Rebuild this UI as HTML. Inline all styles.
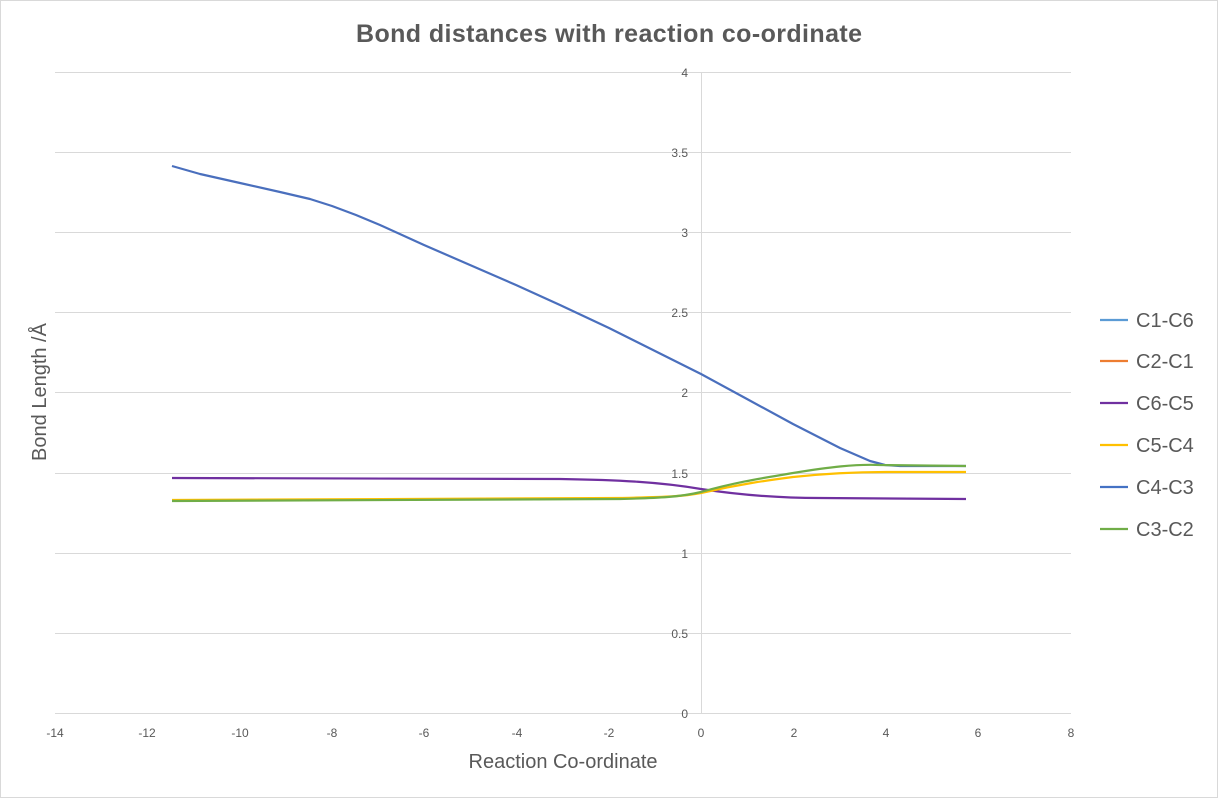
<!DOCTYPE html>
<html><head><meta charset="utf-8"><style>
body{margin:0;background:#fff}
svg{display:block;font-family:"Liberation Sans",sans-serif}
</style></head><body>
<svg width="1218" height="798" viewBox="0 0 1218 798">
<rect x="0.5" y="0.5" width="1217" height="797" fill="#fff" stroke="#d9d9d9"/>
<text x="609" y="42" text-anchor="middle" font-size="25" font-weight="bold" fill="#595959" textLength="506">Bond distances with reaction co-ordinate</text>
<g stroke="#d9d9d9" stroke-width="1">
<line x1="55" x2="1071" y1="72.5" y2="72.5"/>
<line x1="55" x2="1071" y1="152.5" y2="152.5"/>
<line x1="55" x2="1071" y1="232.5" y2="232.5"/>
<line x1="55" x2="1071" y1="312.5" y2="312.5"/>
<line x1="55" x2="1071" y1="392.5" y2="392.5"/>
<line x1="55" x2="1071" y1="473.5" y2="473.5"/>
<line x1="55" x2="1071" y1="553.5" y2="553.5"/>
<line x1="55" x2="1071" y1="633.5" y2="633.5"/>
<line x1="55" x2="1071" y1="713.5" y2="713.5"/>
<line x1="701.5" x2="701.5" y1="72" y2="713"/>
</g>
<g font-size="12" fill="#595959" text-anchor="end">
<text x="688" y="77">4</text><text x="688" y="157">3.5</text><text x="688" y="237">3</text>
<text x="688" y="317">2.5</text><text x="688" y="397">2</text><text x="688" y="478">1.5</text>
<text x="688" y="558">1</text><text x="688" y="638">0.5</text><text x="688" y="718">0</text>
</g>
<g font-size="12" fill="#595959" text-anchor="middle">
<text x="55" y="737">-14</text><text x="147" y="737">-12</text><text x="240" y="737">-10</text>
<text x="332" y="737">-8</text><text x="424" y="737">-6</text><text x="517" y="737">-4</text>
<text x="609" y="737">-2</text><text x="701" y="737">0</text><text x="794" y="737">2</text>
<text x="886" y="737">4</text><text x="978" y="737">6</text><text x="1071" y="737">8</text>
</g>
<text x="563" y="768" text-anchor="middle" font-size="20" fill="#595959">Reaction Co-ordinate</text>
<text transform="translate(46,392) rotate(-90)" text-anchor="middle" font-size="20" fill="#595959">Bond Length /Å</text>
<g fill="none" stroke-width="2.2" stroke-linejoin="round">
<polyline stroke="#4a6fbd" points="172,166 200,174 240,183 280,192 310,199 332,206 356,215 380,225 424,245 470,265 516,285 560,305 609,328 655,351 701,374 747,399 793,424 840,448 870,461 885,465 900,466 966,466"/>
<path stroke="#7030a0" d="M172,478 L560,479 C620,480 660,482 701,489 C740,495 780,498 820,498 L966,499"/>
<path stroke="#ffc000" d="M172,500 L620,498 C660,497 680,497 701,493 C740,484 770,480 793,477 C830,473 860,472 886,472 L966,472"/>
<path stroke="#70ad47" d="M172,501 L620,499 C660,498 680,497 701,492 C740,481 770,477 793,473 C830,467 855,464 880,465 L966,466"/>
</g>
<g font-size="20" fill="#595959">
<line x1="1100" x2="1128" y1="320" y2="320" stroke="#5b9bd5" stroke-width="2.2"/><text x="1136" y="327">C1-C6</text>
<line x1="1100" x2="1128" y1="361" y2="361" stroke="#ed7d31" stroke-width="2.2"/><text x="1136" y="368">C2-C1</text>
<line x1="1100" x2="1128" y1="403" y2="403" stroke="#7030a0" stroke-width="2.2"/><text x="1136" y="410">C6-C5</text>
<line x1="1100" x2="1128" y1="445" y2="445" stroke="#ffc000" stroke-width="2.2"/><text x="1136" y="452">C5-C4</text>
<line x1="1100" x2="1128" y1="487" y2="487" stroke="#4472c4" stroke-width="2.2"/><text x="1136" y="494">C4-C3</text>
<line x1="1100" x2="1128" y1="529" y2="529" stroke="#70ad47" stroke-width="2.2"/><text x="1136" y="536">C3-C2</text>
</g>
</svg>
</body></html>
